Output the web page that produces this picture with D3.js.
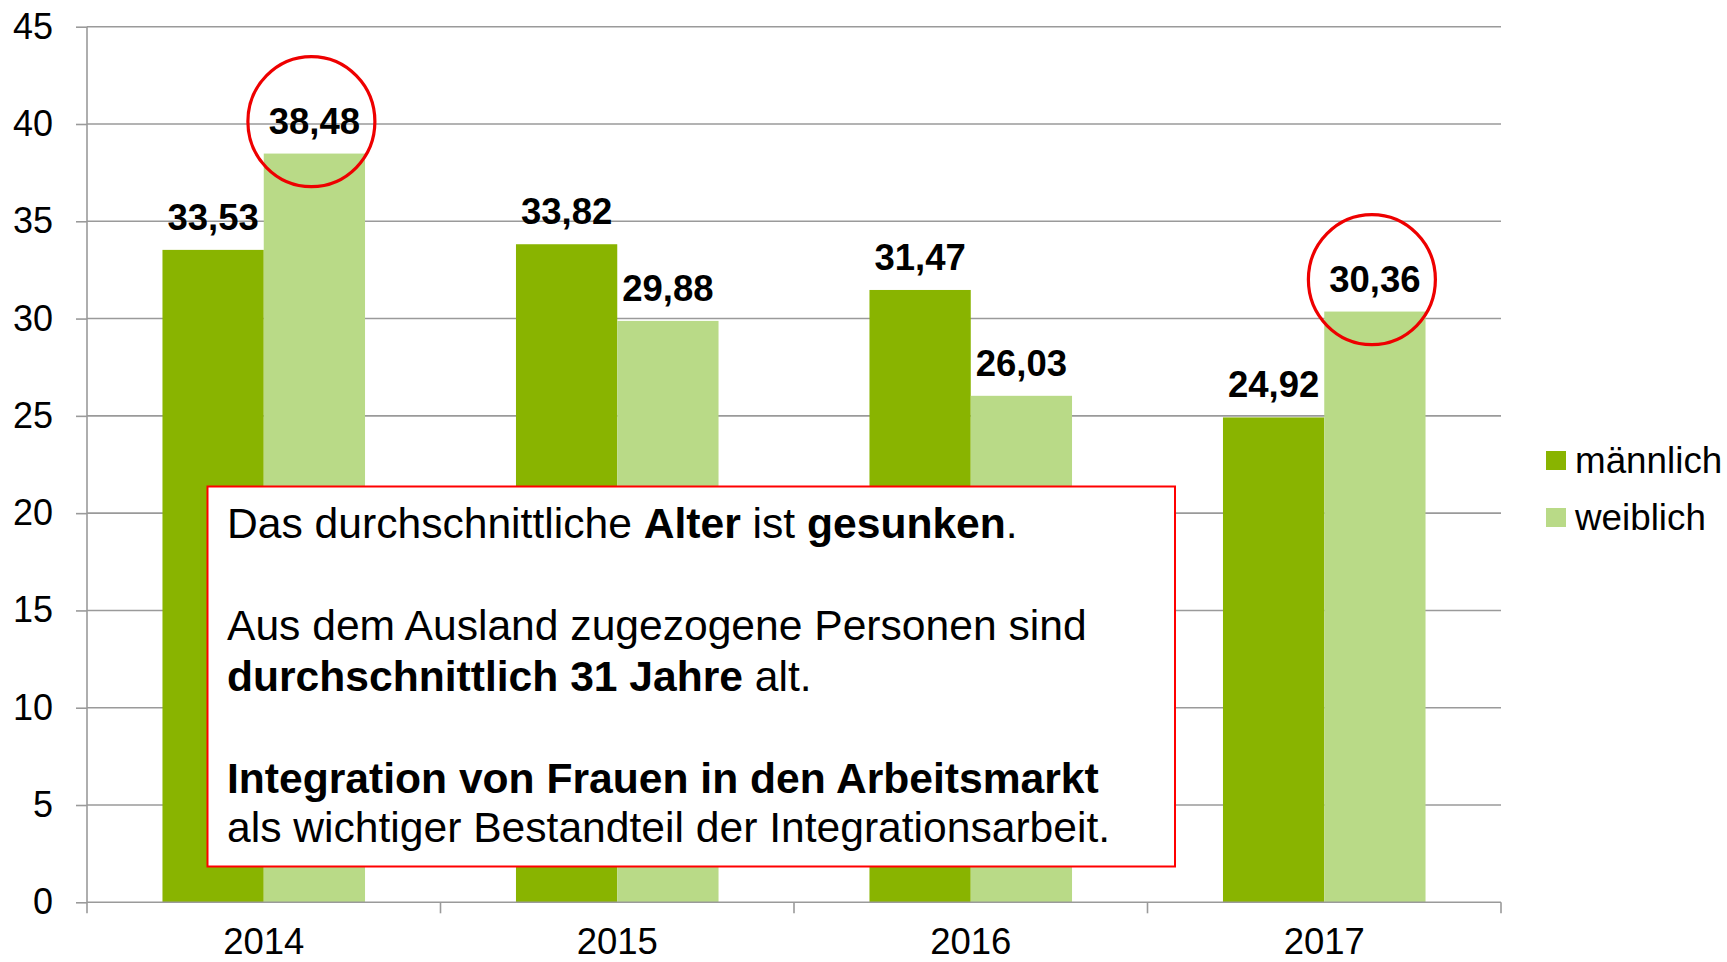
<!DOCTYPE html>
<html>
<head>
<meta charset="utf-8">
<script src="https://cdn.jsdelivr.net/npm/d3@7"></script>
<style>
  html, body { margin: 0; padding: 0; background: #fff; }
  svg { display: block; font-family: "Liberation Sans", Arial, sans-serif; }
</style>
</head>
<body>
<svg id="chart" width="1727" height="962"></svg>
<script>
const categories = ["2014", "2015", "2016", "2017"];
const seriesNames = ["männlich", "weiblich"];
const maennlich = [33.53, 33.82, 31.47, 24.92];
const weiblich = [38.48, 29.88, 26.03, 30.36];
const yTicks = [0, 5, 10, 15, 20, 25, 30, 35, 40, 45];
const circled = [["2014", "weiblich"], ["2017", "weiblich"]];
const boxLines = [
  [["Das durchschnittliche ", false], ["Alter", true], [" ist ", false], ["gesunken", true], [".", false]],
  [["Aus dem Ausland zugezogene Personen sind", false]],
  [["durchschnittlich 31 Jahre", true], [" alt.", false]],
  [["Integration von Frauen in den Arbeitsmarkt", true]],
  [["als wichtiger Bestandteil der Integrationsarbeit.", false]]
];

(function () {
const colors = { "männlich": "#89b400", "weiblich": "#b9da87" };
const fmt = v => v.toFixed(2).replace(".", ",");

const svg = d3.select("#chart");
const pl = 87, pr = 1501, pt = 26.7, pb = 902.3;

const x0 = d3.scaleBand().domain(categories).range([pl, pr])
  .paddingInner(0.427).paddingOuter(0.2135);
const x1 = d3.scaleBand().domain(seriesNames).range([0, x0.bandwidth()]);
const y = d3.scaleLinear().domain([0, 45]).range([pb, pt]);

// gridlines
svg.append("g").selectAll("line").data(yTicks.filter(t => t > 0)).join("line")
  .attr("x1", pl).attr("x2", pr)
  .attr("y1", d => y(d)).attr("y2", d => y(d))
  .attr("stroke", "#9a9a9a").attr("stroke-width", 1.6);

// y axis
const yAxis = svg.append("g").attr("transform", `translate(${pl},0)`)
  .call(d3.axisLeft(y).tickValues(yTicks).tickSize(11).tickPadding(23).tickFormat(d3.format("d")));
yAxis.select(".domain").attr("stroke", "#9a9a9a").attr("stroke-width", 1.6).attr("d", `M0,${pt}V${pb}`);
yAxis.selectAll(".tick line").attr("stroke", "#9a9a9a").attr("stroke-width", 1.6);
yAxis.selectAll(".tick text").attr("font-size", 36).attr("fill", "#000")
  .attr("font-family", "Liberation Sans, Arial, sans-serif");

// data
const data = categories.map((c, i) => ({ cat: c, values: [
  { name: "männlich", value: maennlich[i] },
  { name: "weiblich", value: weiblich[i] }
]}));

const groups = svg.append("g").selectAll("g").data(data).join("g")
  .attr("transform", d => `translate(${x0(d.cat)},0)`);
groups.selectAll("rect").data(d => d.values).join("rect")
  .attr("x", d => x1(d.name)).attr("width", x1.bandwidth())
  .attr("y", d => y(d.value)).attr("height", d => y(0) - y(d.value))
  .attr("fill", d => colors[d.name]);
groups.selectAll("text").data(d => d.values).join("text")
  .attr("x", d => x1(d.name) + x1.bandwidth() / 2)
  .attr("y", d => y(d.value) - 20)
  .attr("text-anchor", "middle")
  .attr("font-size", 36.5).attr("font-weight", "bold").attr("fill", "#000")
  .text(d => fmt(d.value));

// x axis
const xAxisG = svg.append("g").attr("transform", `translate(0,${pb})`);
xAxisG.append("line").attr("x1", pl).attr("x2", pr).attr("y1", 0).attr("y2", 0)
  .attr("stroke", "#9a9a9a").attr("stroke-width", 1.6);
const step = x0.step();
xAxisG.selectAll("line.tk").data(d3.range(categories.length + 1)).join("line")
  .attr("class", "tk")
  .attr("x1", i => pl + i * step).attr("x2", i => pl + i * step)
  .attr("y1", 0).attr("y2", 11)
  .attr("stroke", "#9a9a9a").attr("stroke-width", 1.6);
xAxisG.selectAll("text").data(categories).join("text")
  .attr("x", d => x0(d) + x0.bandwidth() / 2).attr("y", 52)
  .attr("text-anchor", "middle").attr("font-size", 36.5).attr("fill", "#000")
  .text(d => d);

// circles
svg.append("g").selectAll("ellipse").data(circled).join("ellipse")
  .attr("cx", d => x0(d[0]) + x1(d[1]) + x1.bandwidth() / 2 - 3)
  .attr("cy", d => y(weiblich[categories.indexOf(d[0])]) - 32)
  .attr("rx", 63.5).attr("ry", 65)
  .attr("fill", "none").attr("stroke", "#ee0000").attr("stroke-width", 3.2);

// text box
const bx = 207.5, by = 486.5, bw = 967.5, bh = 380;
svg.append("rect").attr("x", bx).attr("y", by).attr("width", bw).attr("height", bh)
  .attr("fill", "#fff").attr("stroke", "#ff0000").attr("stroke-width", 2);
const baselines = [538, 640, 691, 793, 842];
const tb = svg.append("g");
boxLines.forEach((line, i) => {
  const t = tb.append("text").attr("x", 227).attr("y", baselines[i])
    .attr("font-size", 42.6).attr("fill", "#000");
  line.forEach(([s, b]) => {
    t.append("tspan").attr("font-weight", b ? "bold" : "normal")
      .style("white-space", "pre").text(s);
  });
});

// legend
const lg = svg.append("g");
seriesNames.forEach((n, i) => {
  lg.append("rect").attr("x", 1546).attr("y", 451 + i * 57).attr("width", 20).attr("height", 19)
    .attr("fill", colors[n]);
  lg.append("text").attr("x", 1575).attr("y", 473 + i * 57)
    .attr("font-size", 36.8).attr("fill", "#000").text(n);
});
})();
</script>
</body>
</html>
